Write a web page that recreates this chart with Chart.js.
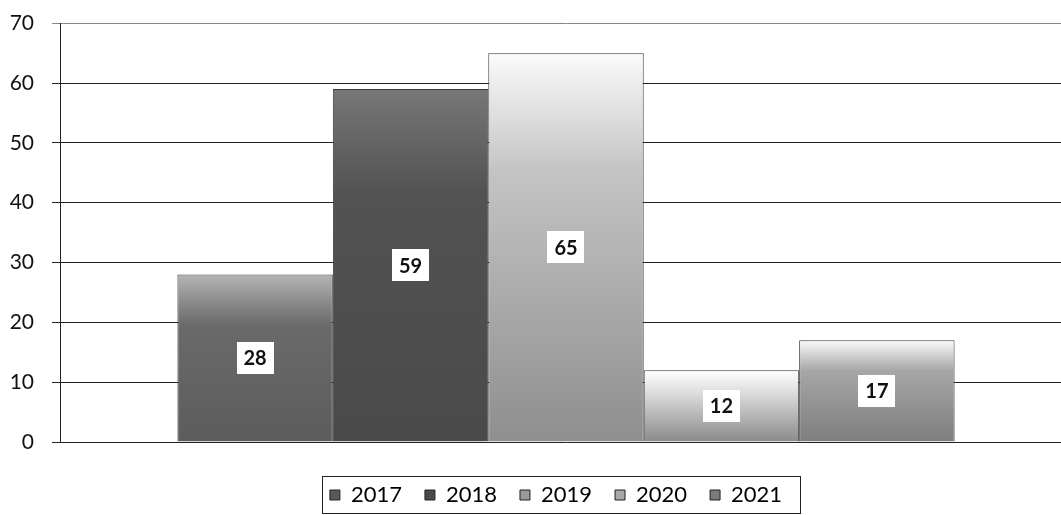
<!DOCTYPE html>
<html>
<head>
<meta charset="utf-8">
<script src="https://cdn.jsdelivr.net/npm/chart.js@4.4.1/dist/chart.umd.min.js"></script>
<style>
  html, body { margin: 0; padding: 0; background: #fff; overflow: hidden; }
  #wrap { width: 1132px; height: 515px; }
</style>
</head>
<body>
<div id="wrap"><canvas id="chart"></canvas></div>
<script>
// --- data ---
const categories = [''];
const seriesNames = ['2017', '2018', '2019', '2020', '2021'];
const seriesValues = [28, 59, 65, 12, 17];
const yTicks = [0, 10, 20, 30, 40, 50, 60, 70];

// grey shading per series: [top colour, mid colour, bottom colour]
const shades = [
    ['#b4b4b4', '#6a6a6a', '#5c5c5c'],
    ['#777777', '#525252', '#4a4a4a'],
    ['#fbfbfb', '#c4c4c4', '#8e8e8e'],
    ['#ffffff', '#dedede', '#8a8a8a'],
    ['#fafafa', '#a6a6a6', '#7e7e7e']
];
const legendSwatch = ['#5a5a5a', '#4a4a4a', '#9a9a9a', '#a8a8a8', '#7a7a7a'];

const FONT = 'Lato, "Open Sans", sans-serif';
const LEGEND_SIZE = 22;
const LEGEND_BOX = 10;
const LEGEND_PAD = 23;

function barGradient(i) {
    return (ctx) => {
        const chart = ctx.chart;
        const area = chart.chartArea;
        if (!area) return shades[i][2];
        const yScale = chart.scales.y;
        const top = yScale.getPixelForValue(seriesValues[i]);
        const bottom = yScale.getPixelForValue(0);
        const g = chart.ctx.createLinearGradient(0, top, 0, bottom);
        g.addColorStop(0, shades[i][0]);
        g.addColorStop(0.3, shades[i][1]);
        g.addColorStop(1, shades[i][2]);
        return g;
    };
}

// white boxed value labels in the middle of each bar
const valueLabels = {
    id: 'valueLabels',
    afterDatasetsDraw(chart) {
        const c = chart.ctx;
        c.save();
        c.font = 'bold 20px ' + FONT;
        c.textAlign = 'center';
        c.textBaseline = 'middle';
        chart.data.datasets.forEach((ds, i) => {
            const bar = chart.getDatasetMeta(i).data[0];
            if (!bar) return;
            const cx = bar.x;
            const cy = (bar.y + bar.base) / 2;
            const txt = String(ds.data[0]);
            const w = c.measureText(txt).width + 14;
            const h = 32;
            c.fillStyle = '#fff';
            c.fillRect(Math.round(cx - w / 2), Math.round(cy - h / 2), Math.round(w), h);
            c.fillStyle = '#111';
            c.fillText(txt, cx, cy + 1);
        });
        c.restore();
    }
};

// nudge the legend to sit under the bars, then frame it
const legendFrame = {
    id: 'legendFrame',
    afterLayout(chart) {
        const lg = chart.legend;
        if (!lg) return;
        lg.left += 20;
        lg.right += 20;
        lg.top += 3;
        lg.bottom += 3;
    },
    afterDraw(chart) {
        const lg = chart.legend;
        if (!lg) return;
        const c = chart.ctx;
        c.save();
        c.font = LEGEND_SIZE + 'px ' + FONT;
        let total = 0;
        seriesNames.forEach((name, i) => {
            total += LEGEND_BOX + LEGEND_SIZE / 2 + c.measureText(name).width;
            if (i > 0) total += LEGEND_PAD;
        });
        const cx = (lg.left + lg.right) / 2;
        const left = Math.round(cx - total / 2 - 8);
        const right = Math.round(cx + total / 2 + 18);
        const midY = (lg.top + lg.bottom) / 2;
        const top = Math.round(midY - 13);
        const bottom = Math.round(midY + 24);
        c.strokeStyle = '#222';
        c.lineWidth = 1;
        c.strokeRect(left + 0.5, top + 0.5, right - left, bottom - top);
        c.restore();
    }
};

new Chart(document.getElementById('chart'), {
    type: 'bar',
    data: {
        labels: categories,
        datasets: seriesNames.map((name, i) => ({
            label: name,
            data: [seriesValues[i]],
            backgroundColor: barGradient(i),
            borderColor: '#3a3a3a',
            borderWidth: 1,
            categoryPercentage: 0.768,
            barPercentage: 1
        }))
    },
    options: {
        responsive: true,
        maintainAspectRatio: false,
        animation: false,
        layout: { padding: { top: 12, right: 60, bottom: 2, left: 0 } },
        plugins: {
            tooltip: { enabled: false },
            legend: {
                position: 'bottom',
                labels: {
                    font: { family: FONT, size: LEGEND_SIZE },
                    color: '#111',
                    boxWidth: LEGEND_BOX,
                    boxHeight: LEGEND_BOX,
                    padding: LEGEND_PAD,
                    generateLabels(chart) {
                        return seriesNames.map((name, i) => ({
                            text: name,
                            fillStyle: legendSwatch[i],
                            strokeStyle: '#222',
                            lineWidth: 1,
                            hidden: false,
                            datasetIndex: i
                        }));
                    }
                }
            }
        },
        scales: {
            x: {
                grid: { display: false },
                border: { display: false },
                ticks: { display: false },
                afterFit(axis) { axis.height = 16; }
            },
            y: {
                min: 0,
                max: 70,
                afterBuildTicks(axis) {
                    axis.ticks = yTicks.map(v => ({ value: v }));
                },
                afterFit(axis) { axis.width = 60; },
                ticks: {
                    font: { family: FONT, size: 21, lineHeight: 0.5 },
                    color: '#111',
                    padding: 18
                },
                grid: {
                    color: (ctx) => ctx.tick && ctx.tick.value === 70 ? '#888' : '#222',
                    lineWidth: 1,
                    tickLength: 8
                },
                border: { display: true, color: '#222', width: 1 }
            }
        }
    },
    plugins: [valueLabels, legendFrame]
});
</script>
</body>
</html>
